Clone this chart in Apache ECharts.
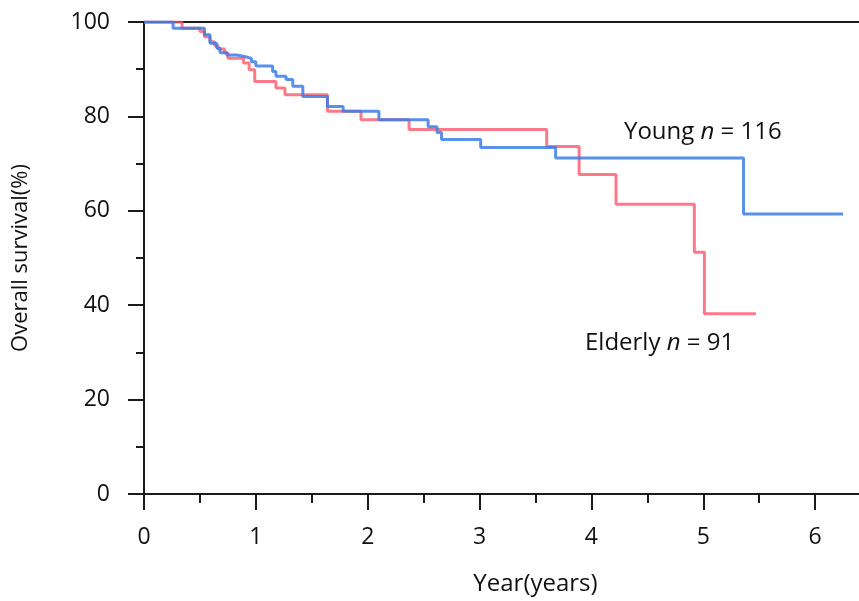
<!DOCTYPE html>
<html>
<head>
<meta charset="utf-8">
<script src="https://cdn.jsdelivr.net/npm/echarts@6/dist/echarts.min.js"></script>
<style>html,body{margin:0;padding:0;background:#fff;overflow:hidden}#c{position:absolute;left:0;top:0;width:930px;height:601px}</style>
</head>
<body>
<div id="c"></div>
<script>
// Kaplan-Meier steps: time of drop (years) and survival after drop (%)
const youngTimes = [0, 0.26, 0.54, 0.59, 0.65, 0.68, 0.74, 0.83, 0.90, 0.96, 1.00, 1.15, 1.18, 1.27, 1.33, 1.42, 1.64, 1.78, 2.10, 2.54, 2.62, 2.66, 3.01, 3.68, 5.36, 6.25];
const youngSurv  = [100, 98.7, 97.3, 95.5, 94.5, 93.5, 93.0, 92.7, 92.3, 91.6, 90.7, 89.5, 88.5, 87.8, 86.4, 84.2, 82.1, 81.1, 79.3, 77.8, 76.6, 75.1, 73.4, 71.2, 59.3, 59.3];
const elderlyTimes = [0, 0.34, 0.50, 0.54, 0.59, 0.63, 0.66, 0.72, 0.75, 0.89, 0.94, 0.99, 1.18, 1.26, 1.64, 1.94, 2.37, 3.60, 3.89, 4.22, 4.92, 5.01, 5.47];
const elderlySurv  = [100, 98.7, 98.0, 96.9, 95.8, 95.0, 94.3, 93.5, 92.3, 91.3, 89.9, 87.4, 86.0, 84.6, 81.1, 79.3, 77.2, 73.6, 67.7, 61.4, 51.2, 38.2, 38.2];
const xTicks = [0, 1, 2, 3, 4, 5, 6];
const yTicks = [0, 20, 40, 60, 80, 100];
const seriesNames = ['Young', 'Elderly'];
const seriesN = [116, 91];

const pair = (xs, ys) => xs.map((x, i) => [x, ys[i]]);
const FONT = '"Open Sans", sans-serif';
const chart = echarts.init(document.getElementById('c'), null, {renderer: 'canvas', width: 930, height: 601});
const axisLineStyle = {color: '#1a1a1a', width: 2};
const richStyle = {
  r: {fontFamily: FONT, fontSize: 24, fill: '#111'},
  i: {fontFamily: FONT, fontSize: 24, fontStyle: 'italic', fill: '#111'}
};
chart.setOption({
  animation: false,
  backgroundColor: '#fff',
  grid: {left: 144, top: 22, right: 0, bottom: 105, containLabel: false},
  xAxis: [{
    type: 'value', min: 0, max: 7, interval: 1,
    name: 'Year(years)', nameLocation: 'middle', nameGap: 78,
    nameTextStyle: {fontFamily: FONT, fontSize: 24, color: '#111'},
    axisLine: {show: true, lineStyle: axisLineStyle},
    axisTick: {show: true, length: 16, lineStyle: {color: '#1a1a1a', width: 2}},
    minorTick: {show: true, splitNumber: 2, length: 9, lineStyle: {color: '#1a1a1a', width: 2}},
    splitLine: {show: false},
    axisLabel: {fontFamily: FONT, fontSize: 23, color: '#111', margin: 32,
      formatter: v => xTicks.includes(v) ? String(v) : ''}
  }, {
    type: 'value', position: 'top', min: 0, max: 7,
    axisLine: {show: true, lineStyle: axisLineStyle},
    axisTick: {show: false}, axisLabel: {show: false}, splitLine: {show: false}
  }],
  yAxis: {
    type: 'value', min: 0, max: 100, interval: 20,
    name: 'Overall survival(%)', nameLocation: 'middle', nameGap: 112,
    nameTextStyle: {fontFamily: FONT, fontSize: 22, color: '#111'},
    axisLine: {show: true, lineStyle: axisLineStyle},
    axisTick: {show: true, length: 16, lineStyle: {color: '#1a1a1a', width: 2}},
    minorTick: {show: true, splitNumber: 2, length: 8, lineStyle: {color: '#1a1a1a', width: 2}},
    splitLine: {show: false},
    axisLabel: {fontFamily: FONT, fontSize: 23, color: '#111', margin: 34,
      formatter: v => yTicks.includes(v) ? String(v) : ''}
  },
  series: [
    {name: seriesNames[0], type: 'line', step: 'end', showSymbol: false, symbol: 'none',
     data: pair(youngTimes, youngSurv), z: 3,
     lineStyle: {color: 'rgba(60,125,230,0.85)', width: 3}},
    {name: seriesNames[1], type: 'line', step: 'end', showSymbol: false, symbol: 'none',
     data: pair(elderlyTimes, elderlySurv), z: 2,
     lineStyle: {color: 'rgba(248,85,105,0.78)', width: 3}}
  ],
  graphic: [
    {type: 'text', left: 624, top: 120, style: {
      text: '{r|' + seriesNames[0] + ' }{i|n}{r| = ' + seriesN[0] + '}', rich: richStyle}},
    {type: 'text', left: 585, top: 331, style: {
      text: '{r|' + seriesNames[1] + ' }{i|n}{r| = ' + seriesN[1] + '}', rich: richStyle}}
  ]
});
</script>
</body>
</html>
